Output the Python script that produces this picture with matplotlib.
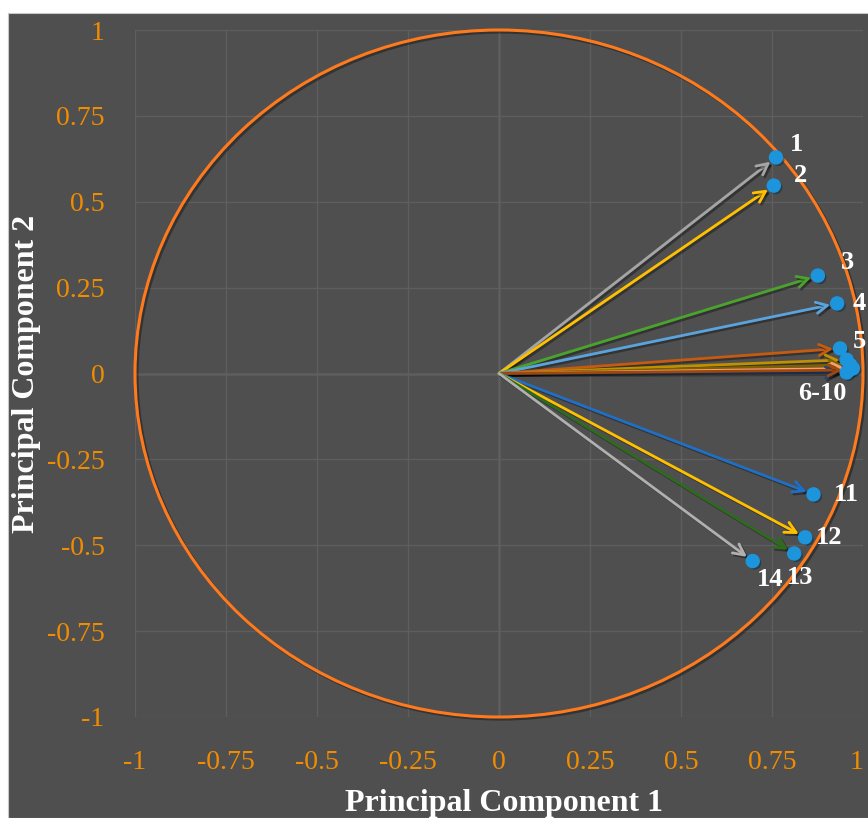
import matplotlib.pyplot as plt
import matplotlib.patheffects as pe
from matplotlib.patches import Circle, Rectangle

# loadings on the first two principal components
labels = ['1', '2', '3', '4', '5', '6', '7', '8', '9', '10', '11', '12', '13', '14']
pc1 = [0.761, 0.755, 0.876, 0.929, 0.937, 0.955, 0.965, 0.972, 0.955, 0.962, 0.864, 0.841, 0.811, 0.697]
pc2 = [0.629, 0.547, 0.285, 0.204, 0.073, 0.040, 0.025, 0.015, 0.003, 0.010, -0.352, -0.477, -0.524, -0.546]
colors = ['#a5a5a5', '#ffc000', '#4aa32c', '#5ba3dc', '#c55a11', '#bf9000', '#7f6000',
          '#f4a070', '#264478', '#9e480e', '#1f6fc5', '#ffc000', '#2e6b1f', '#b0b0b0']

# text labels placed beside the points
tag_text = ['1', '2', '3', '4', '5', '6-10', '11', '12', '13', '14']
tag_x = [0.816, 0.827, 0.956, 0.99, 0.99, 0.887, 0.953, 0.907, 0.827, 0.745]
tag_y = [0.667, 0.576, 0.323, 0.204, 0.094, -0.057, -0.352, -0.477, -0.594, -0.600]

bg = '#4f4f4f'
tick_color = '#f08c00'
serif = ['Liberation Serif', 'DejaVu Serif']

fig = plt.figure(figsize=(8.68, 8.18), dpi=100, facecolor='white')
fig.patches.append(Rectangle((8 / 868, 0), 1, 805 / 818, transform=fig.transFigure,
                             facecolor=bg, edgecolor='#c8c8c8', lw=0.8, zorder=-10))
ax = fig.add_axes([135 / 868, 101 / 818, 728 / 868, 687 / 818])
ax.set_facecolor(bg)
ax.set_xlim(-1, 1)
ax.set_ylim(-1, 1)

ticks = [-1, -0.75, -0.5, -0.25, 0, 0.25, 0.5, 0.75, 1]
ticklabels = ['-1', '-0.75', '-0.5', '-0.25', '0', '0.25', '0.5', '0.75', '1']
ax.set_xticks(ticks)
ax.set_yticks(ticks)
ax.set_xticklabels(ticklabels)
ax.set_yticklabels(ticklabels)
ax.tick_params(length=0, colors=tick_color, labelsize=20)
ax.tick_params(axis='x', pad=24)
ax.tick_params(axis='y', pad=22)
for lab in ax.get_xticklabels() + ax.get_yticklabels():
    lab.set_family(serif)
# keep the last x label inside the figure edge
ax.get_xticklabels()[-1].set_horizontalalignment('right')
ax.grid(True, color='#5e5e5e', lw=1)
for s in ax.spines.values():
    s.set_visible(False)
ax.axhline(0, color='#8a8a8a', lw=1, zorder=1)
ax.axvline(0, color='#8a8a8a', lw=1, zorder=1)

shadow = [pe.SimpleLineShadow(offset=(1.5, -1.5), shadow_color='black', alpha=0.35), pe.Normal()]

# correlation circle
ax.add_patch(Circle((0, 0), 1, fill=False, edgecolor='#ff7a1c', lw=2.2, zorder=2,
                    clip_on=False, path_effects=shadow))

for x, y, c in zip(pc1, pc2, colors):
    ax.annotate('', xy=(x, y), xytext=(0, 0),
                arrowprops=dict(arrowstyle='->,head_length=0.8,head_width=0.4', color=c,
                                lw=2, shrinkA=0, shrinkB=5, path_effects=shadow),
                zorder=3)

ax.scatter(pc1, pc2, s=88, color='#1d95dc', zorder=4, clip_on=False,
           path_effects=[pe.SimplePatchShadow(offset=(1.5, -1.5), alpha=0.5), pe.Normal()])

for t, x, y in zip(tag_text, tag_x, tag_y):
    ax.text(x, y, t, color='white', fontsize=19, fontweight='bold', family=serif,
            ha='center', va='center', clip_on=False, zorder=5)

fig.text(504 / 868, 1 - 803 / 818, 'Principal Component 1', color='white', fontsize=23,
         fontweight='bold', family=serif, ha='center', va='center')
fig.text(27 / 868, 1 - 374 / 818, 'Principal Component 2', color='white', fontsize=23,
         fontweight='bold', family=serif, ha='center', va='center', rotation=90)

fig.savefig('out.png', dpi=100, facecolor='white')
